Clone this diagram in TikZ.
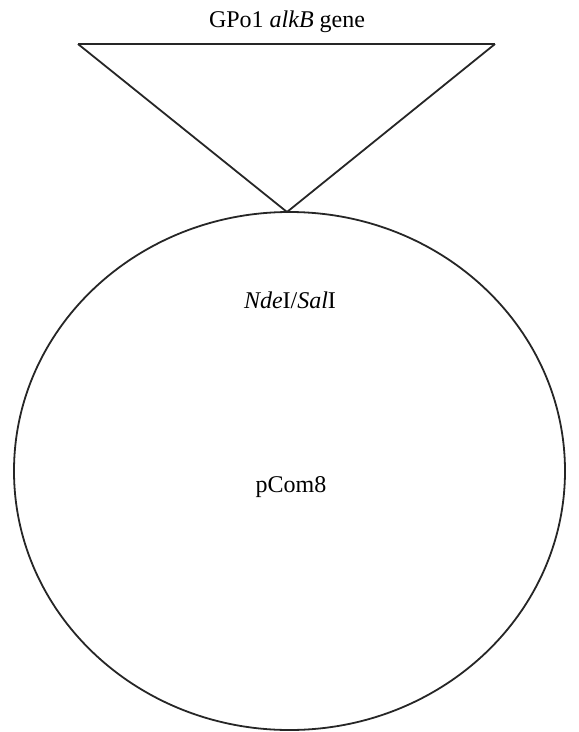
\documentclass[tikz,border=0pt]{standalone}
\usepackage{fontspec}
\setmainfont{Liberation Serif}
\begin{document}
\begin{tikzpicture}[x=1pt,y=-1pt,line width=1.8pt,draw=black!85,
  label/.style={font=\fontsize{24}{28}\selectfont,anchor=base,inner sep=0pt}]
\useasboundingbox (0,0) rectangle (579,732);
\coordinate (L) at (78,44);
\coordinate (R) at (495,44);
\coordinate (T) at (287,212);
% gene insert
\draw[line width=2.4pt] (L) -- (R);
\draw (L) -- (T) -- (R);
\node[label] (gene) at (287,27) {GPo1 \textit{alkB} gene};
% plasmid
\draw (289.5,471) ellipse[x radius=275.5, y radius=259];
\node[label] (site) at (290,308) {\textit{Nde}I/\textit{Sal}I};
\node[label] (vec) at (291,492) {pCom8};
\end{tikzpicture}
\end{document}
